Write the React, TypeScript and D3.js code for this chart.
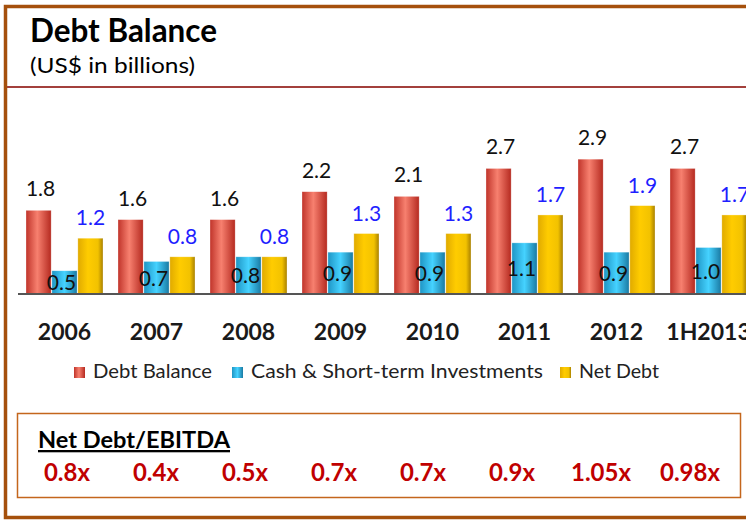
import React, { useEffect, useRef } from 'react';
import * as d3 from 'd3';

const years = ['2006', '2007', '2008', '2009', '2010', '2011', '2012', '1H2013'];
const debtBalance = [1.8, 1.6, 1.6, 2.2, 2.1, 2.7, 2.9, 2.7];
const cashInvestments = [0.5, 0.7, 0.8, 0.9, 0.9, 1.1, 0.9, 1.0];
const netDebt = [1.2, 0.8, 0.8, 1.3, 1.3, 1.7, 1.9, 1.7];
const seriesNames = ['Debt Balance', 'Cash & Short-term Investments', 'Net Debt'];
const netDebtEbitda = ['0.8x', '0.4x', '0.5x', '0.7x', '0.7x', '0.9x', '1.05x', '0.98x'];

const W = 746;
const H = 521;
const FONT = "Lato, 'Open Sans', sans-serif";

// gradient stops per series: [offset, colour]
const gradients: [number, string][][] = [
  [[0, '#c0342a'], [0.45, '#f7806f'], [1, '#b52a20']],
  [[0, '#1f95c4'], [0.5, '#45d2ff'], [1, '#1a7aa3']],
  [[0, '#e0aa00'], [0.4, '#ffcc00'], [0.8, '#f2c200'], [1, '#a88000']],
];

export default function App() {
  const ref = useRef<SVGSVGElement>(null);

  useEffect(() => {
    const svg = d3.select(ref.current);
    svg.selectAll('*').remove();

    const defs = svg.append('defs');
    gradients.forEach((stops, i) => {
      const g = defs.append('linearGradient').attr('id', 'grad' + i)
        .attr('x1', '0%').attr('x2', '100%').attr('y1', '0%').attr('y2', '0%');
      stops.forEach(([o, c]) => g.append('stop').attr('offset', o).attr('stop-color', c));
    });

    svg.append('rect').attr('width', W).attr('height', H).attr('fill', '#fff');

    // outer frame
    svg.append('rect')
      .attr('x', 5.5).attr('y', 6.5).attr('width', 780).attr('height', 511)
      .attr('fill', 'none').attr('stroke', '#a5500c').attr('stroke-width', 3.5);

    // title block
    svg.append('text').attr('x', 30).attr('y', 42).text('Debt Balance')
      .attr('font-family', FONT).attr('font-weight', 700).attr('font-size', 31.5).attr('fill', '#000')
      .attr('textLength', 187).attr('lengthAdjust', 'spacingAndGlyphs');
    svg.append('text').attr('x', 30).attr('y', 73).text('(US$ in billions)')
      .attr('font-family', FONT).attr('font-size', 22).attr('fill', '#000')
      .attr('textLength', 165).attr('lengthAdjust', 'spacingAndGlyphs');
    svg.append('line').attr('x1', 7).attr('x2', W).attr('y1', 87).attr('y2', 87)
      .attr('stroke', '#a3403c').attr('stroke-width', 2);

    const series = [debtBalance, cashInvestments, netDebt];
    const baseY = 294;

    const x0 = d3.scaleBand().domain(years).range([26, 747]).paddingInner(0.163).paddingOuter(0);
    const x1 = d3.scaleBand().domain(seriesNames).range([0, x0.bandwidth()]).paddingInner(0.03);
    const y = d3.scaleLinear().domain([0, 3]).range([baseY, 154.5]);

    const chart = svg.append('g');
    seriesNames.forEach((name, s) => {
      const g = chart.append('g');
      g.selectAll('rect').data(series[s]).join('rect')
        .attr('x', (d, i) => x0(years[i])! + x1(name)!)
        .attr('y', d => y(d))
        .attr('width', x1.bandwidth())
        .attr('height', d => baseY - y(d))
        .attr('fill', `url(#grad${s})`)
        .attr('stroke', 'rgba(255,255,255,0.5)').attr('stroke-width', 0.6);
    });

    // axis
    const axis = chart.append('g').attr('transform', `translate(0,${baseY})`)
      .call(d3.axisBottom(x0).tickSize(0).tickSizeOuter(0));
    axis.select('.domain').attr('d', `M18,0H${W}`).attr('stroke', '#555').attr('stroke-width', 2);
    axis.selectAll('text').attr('y', 46).attr('dy', null)
      .attr('font-family', FONT).attr('font-weight', 700).attr('font-size', 23).attr('fill', '#1a1a1a');

    // value labels
    const lbl = chart.append('g').attr('font-family', FONT).attr('font-size', 21).attr('text-anchor', 'middle');
    lbl.selectAll('text.debt').data(debtBalance).join('text').attr('class', 'debt')
      .attr('x', (d, i) => x0(years[i])! + x1(seriesNames[0])! + x1.bandwidth() / 2 + 2)
      .attr('y', d => y(d) - 14).attr('fill', '#111').text(d => d.toFixed(1));
    lbl.selectAll('text.cash').data(cashInvestments).join('text').attr('class', 'cash')
      .attr('x', (d, i) => x0(years[i])! + x1(seriesNames[1])! + x1.bandwidth() / 2 - 3)
      .attr('y', d => (y(d) + baseY) / 2 + 8).attr('fill', '#111').text(d => d.toFixed(1));
    lbl.selectAll('text.net').data(netDebt).join('text').attr('class', 'net')
      .attr('x', (d, i) => x0(years[i])! + x1(seriesNames[2])! + x1.bandwidth() / 2)
      .attr('y', d => y(d) - 13).attr('fill', '#1f1fff').text(d => d.toFixed(1));

    // legend
    const legendX = [74, 232, 560];
    const legendLen = [119, 292, 80];
    const leg = svg.append('g').attr('font-family', FONT).attr('font-size', 19).attr('fill', '#222');
    seriesNames.forEach((name, s) => {
      leg.append('rect').attr('x', legendX[s]).attr('y', 367).attr('width', 11).attr('height', 11)
        .attr('fill', `url(#grad${s})`);
      leg.append('text').attr('x', legendX[s] + 19).attr('y', 378).text(name)
        .attr('textLength', legendLen[s]).attr('lengthAdjust', 'spacingAndGlyphs');
    });

    // Net Debt / EBITDA box
    svg.append('rect').attr('x', 17.5).attr('y', 413.5).attr('width', 723).attr('height', 84)
      .attr('fill', 'none').attr('stroke', '#c4661c').attr('stroke-width', 1.5);
    svg.append('text').attr('x', 38).attr('y', 448).text('Net Debt/EBITDA')
      .attr('font-family', FONT).attr('font-weight', 700).attr('font-size', 23)
      .attr('fill', '#000').attr('text-decoration', 'underline')
      .attr('textLength', 192).attr('lengthAdjust', 'spacingAndGlyphs');
    const xr = d3.scalePoint().domain(years).range([67, 690]);
    svg.append('g').attr('font-family', FONT).attr('font-weight', 700).attr('font-size', 24)
      .attr('fill', '#c00000').attr('text-anchor', 'middle')
      .selectAll('text').data(netDebtEbitda).join('text')
      .attr('x', (d, i) => xr(years[i])!).attr('y', 481).text(d => d);
  }, []);

  return (
    <div style={{ position: 'absolute', left: 0, top: 0 }}>
      <svg ref={ref} width={W} height={H} style={{ display: 'block' }} />
    </div>
  );
}
